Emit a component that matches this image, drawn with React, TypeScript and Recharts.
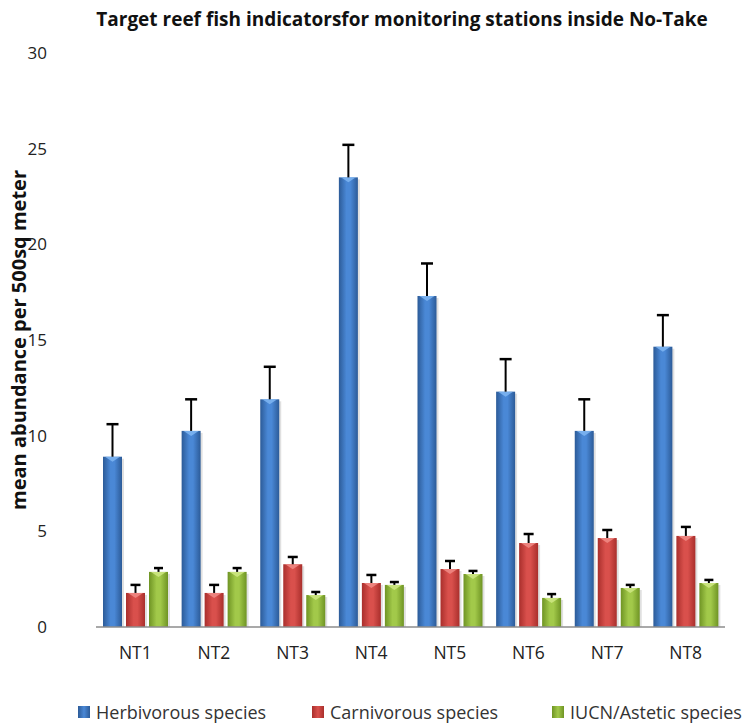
import React from 'react';
import { BarChart, Bar, XAxis, YAxis } from 'recharts';

const categories = ['NT1', 'NT2', 'NT3', 'NT4', 'NT5', 'NT6', 'NT7', 'NT8'];
const herbivorous = [8.9, 10.25, 11.9, 23.5, 17.3, 12.3, 10.25, 14.65];
const herbivorousErr = [1.7, 1.65, 1.7, 1.7, 1.7, 1.7, 1.65, 1.65];
const carnivorous = [1.78, 1.78, 3.28, 2.3, 3.03, 4.39, 4.65, 4.76];
const carnivorousErr = [0.42, 0.42, 0.38, 0.42, 0.42, 0.47, 0.42, 0.47];
const iucn = [2.88, 2.88, 1.67, 2.2, 2.77, 1.52, 2.04, 2.3];
const iucnErr = [0.2, 0.2, 0.16, 0.15, 0.16, 0.2, 0.16, 0.16];
const yTicks = [0, 5, 10, 15, 20, 25, 30];

const seriesNames = ['Herbivorous species', 'Carnivorous species', 'IUCN/Astetic species'];

const data = categories.map((name, i) => ({
    name,
    herb: herbivorous[i],
    herbErr: herbivorousErr[i],
    carn: carnivorous[i],
    carnErr: carnivorousErr[i],
    iucn: iucn[i],
    iucnErr: iucnErr[i],
}));

const FONT = '"Open Sans", "Noto Sans", sans-serif';

const palette = {
    herb: { dark: '#2c5b98', mid: '#4a88d6', tip: '#7fb6f2' },
    carn: { dark: '#a92f2c', mid: '#d9504c', tip: '#f08b86' },
    iucn: { dark: '#6f9424', mid: '#a2c94a', tip: '#cfe884' },
};

function makeShape(valueKey: string, errKey: string, gradId: string, tip: string, capHalf: number) {
    return (props: any) => {
        const { x, y, width, height, payload } = props;
        const v = payload[valueKey];
        const e = payload[errKey];
        const pxPer = v ? height / v : 0;
        const errTop = y - e * pxPer;
        const cx = x + width / 2;
        return (
            <g>
                <rect x={x + 2} y={y + 2} width={width} height={Math.max(height - 2, 0)} fill="rgba(0,0,0,0.12)" />
                <rect x={x} y={y} width={width} height={height} fill={`url(#${gradId})`} />
                <polygon points={`${x + 2},${y} ${x + width - 2},${y} ${cx},${y + 5}`} fill={tip} opacity={0.85} />
                <line x1={cx} y1={y} x2={cx} y2={errTop} stroke="#000" strokeWidth={2} />
                <line x1={cx - capHalf} y1={errTop} x2={cx + capHalf} y2={errTop} stroke="#000" strokeWidth={2.5} />
            </g>
        );
    };
}

const legendKeys = ['herb', 'carn', 'iucn'] as const;
const legendLefts = [78, 312, 552];

export default function App() {
    return (
        <div style={{ position: 'absolute', left: 0, top: 0, width: 749, height: 723, background: '#fff', fontFamily: FONT, overflow: 'hidden' }}>
            <div
                style={{
                    position: 'absolute',
                    top: 6,
                    left: 402,
                    transform: 'translateX(-50%)',
                    fontWeight: 700,
                    fontSize: 19,
                    color: '#111',
                    whiteSpace: 'nowrap',
                }}
            >
                Target reef fish indicatorsfor monitoring stations inside No-Take
            </div>
            <div
                style={{
                    position: 'absolute',
                    left: 18,
                    top: 340,
                    transform: 'translate(-50%, -50%) rotate(-90deg)',
                    fontWeight: 700,
                    fontSize: 20,
                    color: '#111',
                    whiteSpace: 'nowrap',
                }}
            >
                mean abundance per 500sq meter
            </div>
            <BarChart
                width={749}
                height={723}
                data={data}
                margin={{ top: 53, right: 24, bottom: 66, left: 36 }}
                barSize={19}
                barGap={4}
                barCategoryGap="8%"
            >
                <defs>
                    {legendKeys.map((k) => (
                        <linearGradient key={k} id={`grad-${k}`} x1="0" y1="0" x2="1" y2="0">
                            <stop offset="0%" stopColor={palette[k].dark} />
                            <stop offset="40%" stopColor={palette[k].mid} />
                            <stop offset="60%" stopColor={palette[k].mid} />
                            <stop offset="100%" stopColor={palette[k].dark} />
                        </linearGradient>
                    ))}
                </defs>
                <XAxis
                    dataKey="name"
                    height={30}
                    axisLine={{ stroke: '#8c8c8c', strokeWidth: 1.5 }}
                    tickLine={false}
                    tickSize={0}
                    tickMargin={20}
                    tick={{ fill: '#222', fontSize: 17.5, fontFamily: FONT }}
                />
                <YAxis
                    domain={[0, 30]}
                    ticks={yTicks}
                    width={60}
                    axisLine={false}
                    tickLine={false}
                    tickSize={0}
                    tickMargin={49}
                    tick={{ fill: '#222', fontSize: 17, fontFamily: FONT }}
                    interval={0}
                />
                <Bar dataKey="herb" name={seriesNames[0]} isAnimationActive={false} shape={makeShape('herb', 'herbErr', 'grad-herb', palette.herb.tip, 6)} />
                <Bar dataKey="carn" name={seriesNames[1]} isAnimationActive={false} shape={makeShape('carn', 'carnErr', 'grad-carn', palette.carn.tip, 5)} />
                <Bar dataKey="iucn" name={seriesNames[2]} isAnimationActive={false} shape={makeShape('iucn', 'iucnErr', 'grad-iucn', palette.iucn.tip, 4.5)} />
            </BarChart>
            {legendKeys.map((k, i) => (
                <div
                    key={k}
                    style={{
                        position: 'absolute',
                        left: legendLefts[i],
                        top: 712,
                        transform: 'translateY(-50%)',
                        display: 'flex',
                        alignItems: 'center',
                        whiteSpace: 'nowrap',
                        fontSize: 18,
                        color: '#333',
                    }}
                >
                    <span
                        style={{
                            display: 'inline-block',
                            width: 12,
                            height: 12,
                            marginRight: 6,
                            background: `linear-gradient(to right, ${palette[k].dark}, ${palette[k].mid} 50%, ${palette[k].dark})`,
                        }}
                    />
                    {seriesNames[i]}
                </div>
            ))}
        </div>
    );
}
